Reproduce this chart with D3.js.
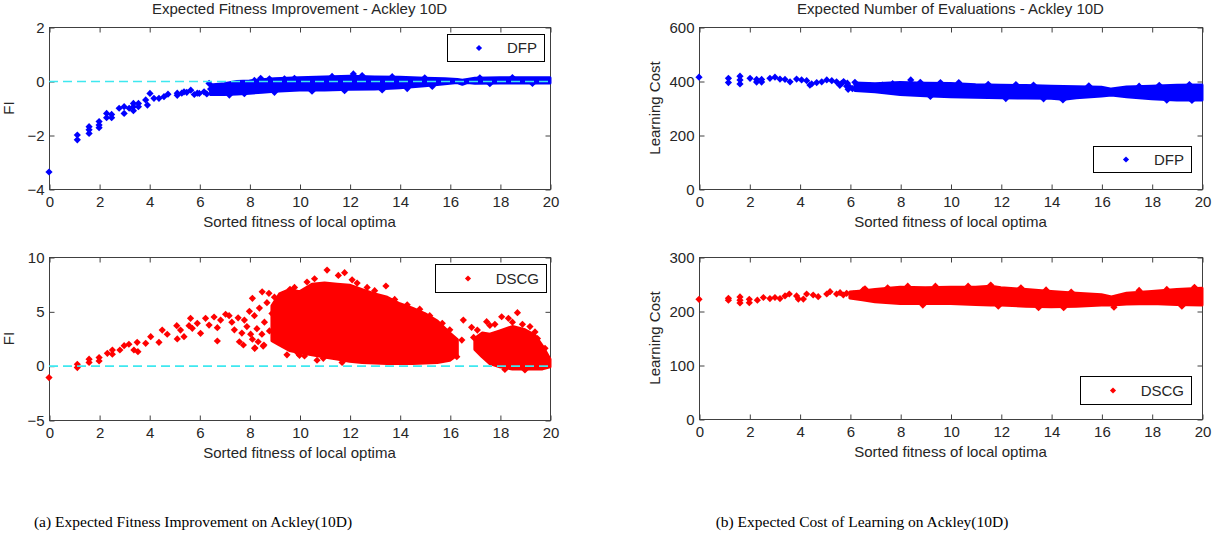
<!DOCTYPE html>
<html>
<head>
<meta charset="utf-8">
<script src="https://cdn.jsdelivr.net/npm/d3@7"></script>
<style>
  body { margin: 0; background: #fff; }
  svg text { font-family: "Liberation Sans", Arial, sans-serif; fill: #262626; }
  .caption { font-family: "Liberation Serif", "Times New Roman", serif; fill: #000; }
</style>
</head>
<body>
<svg id="vis" width="1218" height="541"></svg>
<script>
// shared x ticks
const xTicks = [0, 2, 4, 6, 8, 10, 12, 14, 16, 18, 20];

// (a) top: DFP fitness improvement, sparse points
const fiDfpX = [0, 1.13, 1.13, 1.6, 1.6, 1.6, 2.0, 2.0, 2.0, 2.3, 2.3, 2.5, 2.5, 2.8, 3.0, 3.0, 3.2,
  3.37, 3.37, 3.37, 3.57, 3.57, 3.86, 3.93, 4.03, 4.19, 4.39, 4.59, 4.75, 5.12, 5.12, 5.3, 5.39, 5.5,
  5.66, 5.8, 5.92, 6.0, 6.19, 6.3, 6.39, 6.45, 6.6, 6.8, 7.0, 7.3, 8.45, 8.8, 9.4, 12.15,
  7.2, 7.8, 8.2, 9.0, 9.8, 10.5, 11.3, 11.8, 12.5, 13.3, 13.7, 14.3, 15.0, 15.3, 17.2, 17.6, 18.5, 19.3];
const fiDfpY = [-3.37, -2.0, -2.18, -1.69, -1.81, -1.94, -1.5, -1.63, -1.73, -1.2, -1.36, -1.24, -1.36, -1.01, -0.95, -1.2, -1.01,
  -0.83, -0.95, -1.1, -0.83, -0.95, -0.7, -0.89, -0.46, -0.64, -0.64, -0.58, -0.49, -0.45, -0.53, -0.45, -0.4, -0.42,
  -0.34, -0.5, -0.45, -0.46, -0.4, -0.48, -0.09, -0.3, -0.3, -0.35, -0.28, -0.38, 0.1, 0.08, 0.08, 0.26,
  -0.52, -0.47, 0.02, -0.42, 0.1, -0.38, 0.17, -0.36, 0.2, -0.33, 0.16, -0.28, 0.12, -0.2, 0.12, -0.1, 0.13, -0.09];
// dense band (visible extent of the cloud)
const fiDfpBandX  = [6.45, 7.0, 7.5, 8.0, 8.5, 9.0, 10, 11, 12, 13, 14, 15, 15.8, 16.3, 16.5, 16.7, 17, 18, 19, 20];
const fiDfpBandHi = [-0.15, -0.1, -0.02, 0.0, 0.05, 0.08, 0.12, 0.15, 0.18, 0.15, 0.14, 0.1, 0.08, 0.06, 0.03, 0.06, 0.1, 0.12, 0.12, 0.12];
const fiDfpBandLo = [-0.5, -0.5, -0.48, -0.45, -0.42, -0.38, -0.33, -0.33, -0.31, -0.3, -0.25, -0.18, -0.1, -0.06, -0.12, -0.06, -0.08, -0.07, -0.07, -0.07];

// (a) bottom: DSCG fitness improvement
const fiDscgX = [0, 1.13, 1.13, 1.6, 1.6, 2.0, 2.0, 2.33, 2.53, 2.53, 2.83, 3.0, 3.19, 3.39, 3.52, 3.55,
  3.86, 4.06, 4.39, 4.52, 4.72, 5.1, 5.12, 5.25, 5.39, 5.59, 5.65, 5.72, 5.92, 6.05, 6.25, 6.39, 6.59,
  6.72, 6.72, 6.85, 7.05, 7.19, 7.3, 7.4, 7.55, 7.6, 7.7, 7.76, 7.8, 7.9, 8.0, 8.05, 8.12, 8.12, 8.2,
  8.21, 8.22, 8.3, 8.35, 8.4, 8.5, 8.51, 8.55, 8.58, 8.6, 8.7, 8.78, 8.8, 8.9, 9.0, 9.0, 9.1, 9.2,
  9.62, 9.94, 10.3, 10.6, 10.95, 11.1, 11.55, 11.8, 12.1, 12.7, 13.45, 16.28, 16.48, 16.54,
  16.87, 16.95, 17.1, 17.2, 17.47, 17.6, 18.07, 18.34, 18.5, 18.7, 19.2, 19.5,
  9.5, 10.2, 10.7, 11.7, 12.3, 13.0, 13.8, 14.3, 14.8, 15.2, 15.7, 16.0, 9.8, 10.0,
  17.8, 18.9, 19.4, 19.8, 18.2, 19.0];
const fiDscgY = [-1.1, 0.13, -0.18, 0.6, 0.3, 0.74, 0.43, 1.14, 1.44, 1.05, 1.44, 1.84, 1.97, 1.44, 2.15, 1.29,
  2.06, 2.67, 2.15, 3.28, 2.89, 3.68, 2.46, 3.28, 2.67, 3.68, 4.36, 3.44, 3.9, 2.98, 4.36, 3.74, 4.48,
  3.5, 2.27, 4.2, 4.73, 4.6, 4.0, 3.3, 4.4, 2.2, 3.0, 1.9, 4.2, 3.6, 5.0, 2.9, 2.43, 6.2, 4.6,
  1.6, 1.63, 3.4, 2.2, 5.3, 2.9, 6.8, 1.8, 1.9, 4.0, 5.8, 6.66, 3.2, 4.8, 2.6, 6.3, 5.5, 3.8,
  7.03, 1.14, 7.7, 8.0, 0.68, 8.8, 8.3, 8.56, 7.9, 7.2, 7.33, 0.83, 2.36, 4.2,
  3.53, 2.6, 3.28, 2.0, 4.05, 3.7, 4.5, 4.36, 4.0, 4.88, 3.6, 2.5,
  1.0, 0.9, 0.5, 0.3, 7.6, 6.9, 6.1, 5.6, 5.2, 4.6, 3.9, 3.3, 7.2, 0.95,
  3.8, 3.8, 3.1, 1.6, -0.35, -0.4];
const fiDscgBand1X  = [8.9, 9.2, 9.6, 10.0, 10.5, 11.0, 11.5, 12.0, 12.5, 13.0, 13.5, 14.0, 14.5, 15.0, 15.5, 16.0, 16.3];
const fiDscgBand1Hi = [5.5, 6.6, 7.0, 6.8, 7.5, 7.6, 7.5, 7.4, 7.0, 6.6, 6.3, 5.7, 5.3, 4.8, 4.1, 3.0, 2.4];
const fiDscgBand1Lo = [2.3, 1.9, 1.4, 1.2, 1.0, 0.8, 0.6, 0.4, 0.3, 0.25, 0.2, 0.2, 0.2, 0.25, 0.3, 0.5, 1.0];
const fiDscgBand2X  = [17.0, 17.3, 17.6, 18.0, 18.5, 19.0, 19.4, 19.7, 20.0];
const fiDscgBand2Hi = [2.5, 3.0, 2.9, 3.2, 3.6, 3.3, 2.8, 1.8, 0.6];
const fiDscgBand2Lo = [1.5, 0.8, 0.2, -0.1, -0.3, -0.3, -0.3, -0.3, -0.1];

// (b) top: DFP learning cost
const costDfpX = [0, 1.17, 1.17, 1.63, 1.63, 1.63, 2.03, 2.29, 2.29, 2.49, 2.49, 2.82, 3.02, 3.22, 3.42, 3.62,
  3.88, 4.08, 4.28, 4.41, 4.48, 4.68, 4.88, 5.08, 5.28, 5.47, 5.6, 5.67, 5.75, 5.87, 5.9, 5.93, 6.0,
  6.1, 6.2, 6.4, 6.6, 6.8, 7.0, 7.3, 7.5, 7.7, 8.0, 8.42, 10.33,
  8.8, 9.6, 11.5, 12.6, 13.3, 14.47, 15.5, 17.5, 18.3, 19.5, 9.2, 12.2, 13.7, 18.6, 19.6];
const costDfpY = [414, 410, 394, 418, 404, 389, 410, 406, 396, 406, 396, 410, 414, 407, 406, 397,
  407, 404, 401, 385, 389, 394, 397, 404, 401, 397, 384, 391, 398, 381, 392, 369, 377,
  372, 395, 381, 378, 383, 377, 385, 374, 390, 380, 404, 394,
  395, 394, 388, 387, 385, 330, 382, 381, 384, 387, 343, 335, 334, 329, 328];
const costDfpBandX  = [6.2, 7, 8, 9, 10, 11, 12, 13, 14, 14.5, 15, 16, 16.4, 17, 18, 19, 20];
const costDfpBandHi = [393, 390, 394, 392, 391, 386, 384, 383, 381, 380, 379, 377, 370, 378, 381, 384, 385];
const costDfpBandLo = [365, 360, 350, 345, 342, 340, 338, 337, 336, 332, 338, 344, 348, 342, 334, 330, 330];

// (b) bottom: DSCG learning cost
const costDscgX = [0, 1.17, 1.17, 1.63, 1.63, 1.63, 2.0, 2.0, 2.32, 2.56, 2.82, 3.02, 3.22, 3.42, 3.59,
  3.88, 3.95, 4.15, 4.28, 4.54, 4.74, 5.08, 5.21, 5.47, 5.61, 5.74, 5.87, 6.14, 6.4, 6.53,
  6.6, 7.5, 8.3, 9.4, 10.7, 11.6, 12.8, 13.8, 14.8, 17.5, 18.6, 19.7, 8.9, 11.9, 13.5, 14.5, 16.5, 19.2];
const costDscgY = [221.6, 223.5, 220, 226, 220, 215, 221.6, 215.4, 220, 225, 223, 225, 223, 228, 231.5,
  228, 222, 222, 231.5, 229.6, 226.5, 231.5, 235.8, 231.5, 234, 229.6, 232.7, 231.5, 232.7, 239,
  241, 243, 246, 246, 246, 248, 243, 239, 235, 238, 240, 244, 211, 209, 206, 206, 207, 209];
const costDscgBandX  = [6.0, 6.5, 7, 8, 9, 10, 11, 11.6, 12, 13, 14, 15, 16, 16.4, 17, 18, 19, 20];
const costDscgBandHi = [235, 237, 240, 244, 243, 244, 244, 246, 243, 240, 236, 233, 230, 226, 233, 236, 240, 242];
const costDscgBandLo = [224, 221, 217, 214, 214, 214, 212, 211, 211, 209, 208, 209, 211, 211, 213, 214, 212, 211];

const svg = d3.select("#vis");
const diamond = d3.symbol().type(d3.symbolSquare).size(26)();

function zip(xs, ys) { return xs.map((x, i) => ({ x: x, y: ys[i] })); }
function band(xs, lo, hi) { return xs.map((x, i) => ({ x: x, lo: lo[i], hi: hi[i] })); }

function drawPanel(p) {
  const x = d3.scaleLinear().domain([0, 20]).range([p.left, p.right]);
  const y = d3.scaleLinear().domain(p.yDomain).range([p.bottom, p.top]);
  const g = svg.append("g");

  // frame
  g.append("rect")
    .attr("x", p.left + 0.5).attr("y", p.top + 0.5)
    .attr("width", p.right - p.left).attr("height", p.bottom - p.top)
    .attr("fill", "none").attr("stroke", "#404040");

  const fs = "15px";
  const bx = g.append("g").attr("transform", `translate(0.5,${p.bottom + 0.5})`)
    .call(d3.axisBottom(x).tickValues(xTicks).tickSizeInner(-5).tickSizeOuter(0).tickPadding(7).tickFormat(d3.format("d")));
  const tx = g.append("g").attr("transform", `translate(0.5,${p.top + 0.5})`)
    .call(d3.axisTop(x).tickValues(xTicks).tickSizeInner(-5).tickSizeOuter(0).tickFormat(""));
  const ly = g.append("g").attr("transform", `translate(${p.left + 0.5},0.5)`)
    .call(d3.axisLeft(y).tickValues(p.yTicks).tickSizeInner(-5).tickSizeOuter(0).tickPadding(5).tickFormat(d3.format("d")));
  const ry = g.append("g").attr("transform", `translate(${p.right + 0.5},0.5)`)
    .call(d3.axisRight(y).tickValues(p.yTicks).tickSizeInner(-5).tickSizeOuter(0).tickFormat(""));
  [bx, tx, ly, ry].forEach(a => {
    a.select(".domain").remove();
    a.selectAll("line").attr("stroke", "#404040");
    a.selectAll("text").attr("font-size", fs).attr("font-family", "Liberation Sans, Arial, sans-serif").attr("fill", "#262626");
  });

  // dense clouds
  const area = d3.area().x(d => x(d.x)).y0(d => y(d.lo)).y1(d => y(d.hi));
  p.bands.forEach(b => {
    g.append("path").datum(b).attr("d", area).attr("fill", p.color)
      .attr("stroke", p.color).attr("stroke-width", 3).attr("stroke-linejoin", "round");
  });

  // sparse points
  g.append("g").selectAll("path").data(p.points).join("path")
    .attr("d", diamond)
    .attr("transform", d => `translate(${x(d.x)},${y(d.y)}) rotate(45)`)
    .attr("fill", p.color);

  // zero reference line
  if (p.zeroLine) {
    g.append("line")
      .attr("x1", x(0)).attr("x2", x(20))
      .attr("y1", y(0) + 0.5).attr("y2", y(0) + 0.5)
      .attr("stroke", "#3ee8f0").attr("stroke-width", 1.6)
      .attr("stroke-dasharray", "9,5");
  }

  // labels
  g.append("text").attr("x", (p.left + p.right) / 2).attr("y", p.bottom + 38)
    .attr("text-anchor", "middle").attr("font-size", fs).text("Sorted fitness of local optima");
  g.append("text")
    .attr("transform", `translate(${p.yLabelX},${(p.top + p.bottom) / 2}) rotate(-90)`)
    .attr("text-anchor", "middle").attr("font-size", fs).text(p.yLabel);
  if (p.title) {
    g.append("text").attr("x", (p.left + p.right) / 2).attr("y", p.top - 13)
      .attr("text-anchor", "middle").attr("font-size", fs).text(p.title);
  }

  // legend
  const lg = g.append("g");
  lg.append("rect").attr("x", p.legend[0] + 0.5).attr("y", p.legend[1] + 0.5)
    .attr("width", p.legend[2]).attr("height", p.legend[3])
    .attr("fill", "#fff").attr("stroke", "#000");
  lg.append("path").attr("d", d3.symbol().type(d3.symbolSquare).size(19)())
    .attr("transform", `translate(${p.legend[0] + p.legend[4]},${p.legend[1] + p.legend[3] / 2 + 0.5}) rotate(45)`)
    .attr("fill", p.color);
  lg.append("text").attr("x", p.legend[0] + p.legend[2] - 7).attr("y", p.legend[1] + p.legend[3] / 2 + 5.5)
    .attr("text-anchor", "end").attr("font-size", fs).text(p.name);
}

drawPanel({
  left: 49, right: 550, top: 27, bottom: 189, yDomain: [-4, 2], yTicks: [-4, -2, 0, 2],
  color: "#0000ff", name: "DFP", zeroLine: true, yLabel: "FI", yLabelX: 14,
  title: "Expected Fitness Improvement - Ackley 10D",
  points: zip(fiDfpX, fiDfpY),
  bands: [band(fiDfpBandX, fiDfpBandLo, fiDfpBandHi)],
  legend: [447, 34, 97, 27, 32]
});
drawPanel({
  left: 49, right: 550, top: 257, bottom: 420, yDomain: [-5, 10], yTicks: [-5, 0, 5, 10],
  color: "#ff0000", name: "DSCG", zeroLine: true, yLabel: "FI", yLabelX: 14,
  points: zip(fiDscgX, fiDscgY),
  bands: [band(fiDscgBand1X, fiDscgBand1Lo, fiDscgBand1Hi), band(fiDscgBand2X, fiDscgBand2Lo, fiDscgBand2Hi)],
  legend: [435, 264, 111, 28, 33]
});
drawPanel({
  left: 699, right: 1202, top: 27, bottom: 189, yDomain: [0, 600], yTicks: [0, 200, 400, 600],
  color: "#0000ff", name: "DFP", zeroLine: false, yLabel: "Learning Cost", yLabelX: 660,
  title: "Expected Number of Evaluations - Ackley 10D",
  points: zip(costDfpX, costDfpY),
  bands: [band(costDfpBandX, costDfpBandLo, costDfpBandHi)],
  legend: [1093, 146, 98, 26, 33]
});
drawPanel({
  left: 699, right: 1202, top: 257, bottom: 419, yDomain: [0, 300], yTicks: [0, 100, 200, 300],
  color: "#ff0000", name: "DSCG", zeroLine: false, yLabel: "Learning Cost", yLabelX: 660,
  points: zip(costDscgX, costDscgY),
  bands: [band(costDscgBandX, costDscgBandLo, costDscgBandHi)],
  legend: [1080, 376, 111, 28, 33]
});

// captions
svg.append("text").attr("class", "caption").attr("x", 193).attr("y", 527)
  .attr("text-anchor", "middle").attr("font-size", "15.5px")
  .text("(a) Expected Fitness Improvement on Ackley(10D)");
svg.append("text").attr("class", "caption").attr("x", 862).attr("y", 527)
  .attr("text-anchor", "middle").attr("font-size", "15.5px")
  .text("(b) Expected Cost of Learning on Ackley(10D)");
</script>
</body>
</html>
